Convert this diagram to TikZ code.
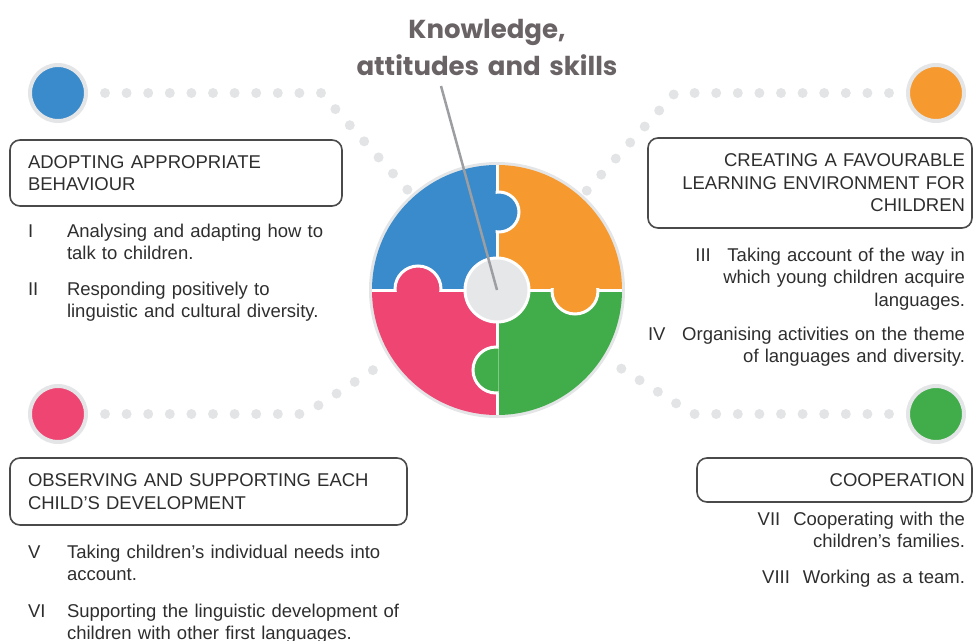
\documentclass[tikz,border=0pt]{standalone}
\usepackage{fontspec}
\setmainfont{Liberation Sans}
\newfontfamily\headfont{Poppins}
\definecolor{pblue}{HTML}{3A8BCB}
\definecolor{porange}{HTML}{F6992F}
\definecolor{pgreen}{HTML}{40AD4A}
\definecolor{ppink}{HTML}{EE4573}
\definecolor{dotgray}{HTML}{E3E4E6}
\definecolor{ringgray}{HTML}{E4E5E7}
\definecolor{hubgray}{HTML}{E6E7E9}
\definecolor{ptrgray}{HTML}{9C9EA1}
\definecolor{txtgray}{HTML}{2E2E2E}
\definecolor{headgray}{HTML}{6A6365}
\definecolor{boxgray}{HTML}{4A4A4A}
\begin{document}
\begin{tikzpicture}[x=1pt,y=-1pt,
  every node/.style={inner sep=0pt,outer sep=0pt},
  body/.style={font=\fontsize{18.5}{22.5}\selectfont,text=txtgray},
  num/.style={body,anchor=base west},
  lefttext/.style={body,anchor=base west,text width=345pt,align=left},
  righttext/.style={body,anchor=base east,text width=330pt,align=right},
  headbox/.style={body,draw=boxgray,line width=1.6pt,rounded corners=10pt},
  bubble/.style={circle,minimum size=56pt,line width=4pt,draw=ringgray},
  trail/.style={draw=dotgray,line width=10pt,line cap=round,
    dash pattern=on 0pt off 21.6pt,shorten <=19pt,shorten >=5pt},
  tab/.style={draw=white,line width=3pt},
  title/.style={font=\headfont\bfseries\fontsize{26}{37}\selectfont,text=headgray,
    anchor=base,text width=330pt,align=center}]
\useasboundingbox (0,0) rectangle (974,640);

\node[title] (title) at (487,38) {Knowledge,\\attitudes and skills};

% bubbles and dotted trails
\node[circle,minimum size=256pt,fill=ringgray] (puzzle) at (497,290) {};
\foreach \c/\col/\x/\y in {cblue/pblue/58/93,corange/porange/936/93,cpink/ppink/58/414,cgreen/pgreen/936/414}
{
    \node[bubble,fill=\col] (\c) at (\x,\y) {};
}
\foreach \c/\x/\y in {cblue/321/93,corange/675/93,cpink/305/414,cgreen/693/414}
{
    \draw[trail] (\c) -- (\x,\y) -- (puzzle);
}

% puzzle
\begin{scope}
\clip (puzzle.center) circle (125pt);
\fill[pblue] (497,290) rectangle (360,150);
\fill[porange] (497,290) rectangle (640,150);
\fill[pgreen] (497,290) rectangle (640,430);
\fill[ppink] (497,290) rectangle (360,430);
\draw[white,line width=3pt] (497,150) -- (497,430) (360,290) -- (640,290);
\begin{scope}
\clip (495.5,150) rectangle (640,291.5);
\filldraw[tab,fill=pblue] (499,212) circle (20pt);
\end{scope}
\begin{scope}
\clip (495.5,288.5) rectangle (640,430);
\filldraw[tab,fill=porange] (575,291) circle (23pt);
\end{scope}
\begin{scope}
\clip (360,288.5) rectangle (498.5,430);
\filldraw[tab,fill=pgreen] (496,370) circle (23pt);
\end{scope}
\begin{scope}
\clip (360,150) rectangle (498.5,291.5);
\filldraw[tab,fill=ppink] (418,289) circle (23pt);
\end{scope}
\end{scope}
\node[circle,minimum size=64pt,fill=hubgray,draw=white,line width=3pt] (hub) at (puzzle.center) {};
\coordinate (ptr) at (441,86);
\draw[ptrgray,line width=2.5pt] (ptr) -- (hub.center);

% headings
\node[headbox,minimum width=332pt,minimum height=66pt,inner xsep=18pt,
  text width=296pt,align=left] (box1) at (176,173)
  {ADOPTING APPROPRIATE\\BEHAVIOUR};
\node[headbox,minimum width=324pt,minimum height=90pt,inner xsep=7pt,
  text width=310pt,align=right] (box2) at (810,183)
  {CREATING A FAVOURABLE\\LEARNING ENVIRONMENT FOR\\CHILDREN};
\node[headbox,minimum width=397pt,minimum height=67pt,inner xsep=18pt,
  text width=361pt,align=left] (box3) at (208.5,491.5)
  {OBSERVING AND SUPPORTING EACH\\CHILD’S DEVELOPMENT};
\node[headbox,minimum width=275pt,minimum height=44pt,inner xsep=7pt,
  text width=261pt,align=right] (box4) at (834.5,480)
  {COOPERATION};

% items
\node[num] (n1) at (28,237) {I};
\node[lefttext] (t1) at (67,237) {Analysing and adapting how to\\talk to children.};
\node[num] (n2) at (28,295) {II};
\node[lefttext] (t2) at (67,295) {Responding positively to\\linguistic and cultural diversity.};
\node[righttext] (t3) at (965,261) {III\hspace{0.9em}Taking account of the way in\\which young children acquire\\languages.};
\node[righttext] (t4) at (965,340) {IV\hspace{0.9em}Organising activities on the theme\\of languages and diversity.};
\node[num] (n5) at (28,558) {V};
\node[lefttext] (t5) at (67,558) {Taking children’s individual needs into\\account.};
\node[num] (n6) at (28,617) {VI};
\node[lefttext] (t6) at (67,617) {Supporting the linguistic development of\\children with other first languages.};
\node[righttext] (t7) at (965,525) {VII\hspace{0.7em}Cooperating with the\\children’s families.};
\node[righttext] (t8) at (965,583) {VIII\hspace{0.7em}Working as a team.};
\end{tikzpicture}
\end{document}
